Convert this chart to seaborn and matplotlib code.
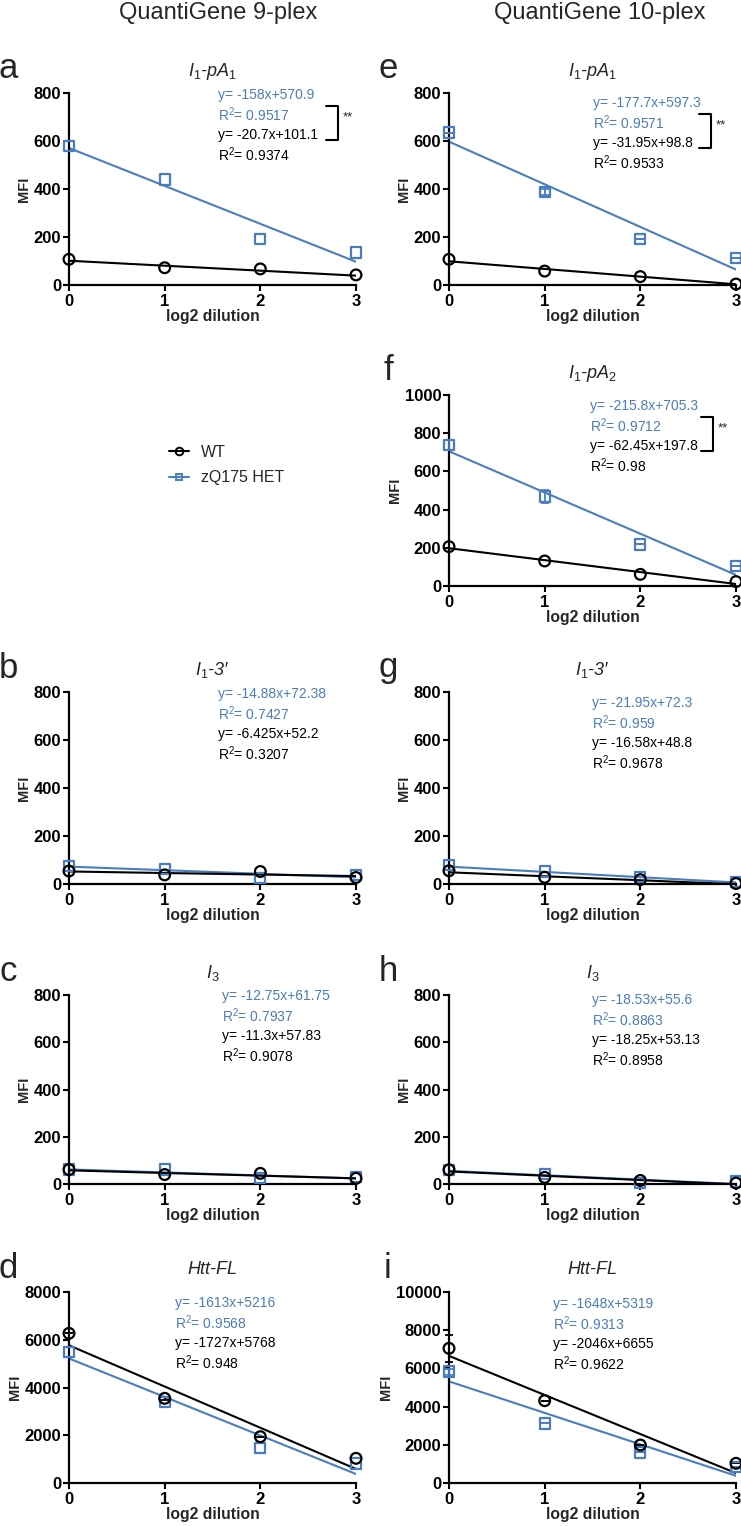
import matplotlib
matplotlib.use("Agg")
import matplotlib.pyplot as plt
import seaborn as sns
import pandas as pd
from matplotlib.lines import Line2D

# ---------------- data ----------------
dilution = [0, 1, 2, 3]
panels = ["a", "b", "c", "d", "e", "f", "g", "h", "i"]
titles = ["$I_1$-$pA_1$", "$I_1$-3\u2032", "$I_3$", "Htt-FL",
          "$I_1$-$pA_1$", "$I_1$-$pA_2$", "$I_1$-3\u2032", "$I_3$", "Htt-FL"]

wt_a = [107, 72, 67, 42];        het_a = [579, 440, 191, 135]
wt_b = [54, 38, 52, 27];         het_b = [76, 63, 25, 38]
wt_c = [61, 40, 45, 24];         het_c = [61, 61, 24, 30]
wt_d = [6269, 3546, 1940, 1033]; het_d = [5500, 3405, 1480, 823]
wt_e = [107, 58, 35, 4];         het_e = [635, 387, 191, 112]
wt_f = [206, 131, 61, 23];       het_f = [738, 468, 218, 105]
wt_g = [55, 28, 18, 2];          het_g = [78, 52, 28, 8]
wt_h = [60, 28, 15, 4];          het_h = [60, 42, 3, 10]
wt_i = [7050, 4310, 1990, 1030]; het_i = [5830, 3120, 1600, 850]

wt_err = {"d": [0, 60, 0, 0], "i": [700, 0, 0, 0]}
het_err = {"e": [0, 12, 0, 0], "f": [25, 35, 0, 0], "i": [150, 0, 0, 0]}

wt_slope = [-20.7, -6.425, -11.3, -1727, -31.95, -62.45, -16.58, -18.25, -2046]
wt_int = [101.1, 52.2, 57.83, 5768, 98.8, 197.8, 48.8, 53.13, 6655]
wt_r2 = [0.9374, 0.3207, 0.9078, 0.948, 0.9533, 0.98, 0.9678, 0.8958, 0.9622]
het_slope = [-158, -14.88, -12.75, -1613, -177.7, -215.8, -21.95, -18.53, -1648]
het_int = [570.9, 72.38, 61.75, 5216, 597.3, 705.3, 72.3, 55.6, 5319]
het_r2 = [0.9517, 0.7427, 0.7937, 0.9568, 0.9571, 0.9712, 0.959, 0.8863, 0.9313]

ymax = [800, 800, 800, 8000, 800, 1000, 800, 800, 10000]
ystep = [200, 200, 200, 2000, 200, 200, 200, 200, 2000]
significant = ["a", "e", "f"]

col_titles = ["QuantiGene 9-plex", "QuantiGene 10-plex"]
groups = ["WT", "zQ175 HET"]

wt_data = [wt_a, wt_b, wt_c, wt_d, wt_e, wt_f, wt_g, wt_h, wt_i]
het_data = [het_a, het_b, het_c, het_d, het_e, het_f, het_g, het_h, het_i]

# ---------------- style ----------------
sns.set_style("ticks")
plt.rcParams["font.family"] = ["Liberation Sans", "DejaVu Sans"]
plt.rcParams["mathtext.fontset"] = "custom"
plt.rcParams["mathtext.rm"] = "Liberation Sans"
plt.rcParams["mathtext.it"] = "Liberation Sans:italic"
plt.rcParams["mathtext.bf"] = "Liberation Sans:bold"

BLUE = "#4A7DBF"
BLACK = "#000000"

W, H = 741, 1526
fig = plt.figure(figsize=(W / 100, H / 100), dpi=100)
fig.patch.set_facecolor("white")


def fx(px):
    return px / W


def fy(py):
    return 1 - py / H


col_left = [69, 449]
ax_w = 287
rows = [(93, 285), (395, 586), (692, 884), (995, 1184), (1292, 1483)]
layout = {"a": (0, 0), "b": (0, 2), "c": (0, 3), "d": (0, 4),
          "e": (1, 0), "f": (1, 1), "g": (1, 2), "h": (1, 3), "i": (1, 4)}
eq_pos = {"a": (218, 95), "b": (218, 694), "c": (222, 996), "d": (175, 1303),
          "e": (593, 103), "f": (590, 406), "g": (592, 703), "h": (592, 1000),
          "i": (553, 1304)}
bracket_x = {"a": 338, "e": 711, "f": 713}

for k, p in enumerate(panels):
    c, r = layout[p]
    top, bot = rows[r]
    ax = fig.add_axes([fx(col_left[c]), fy(bot), fx(ax_w), (bot - top) / H])
    df = pd.DataFrame({"x": dilution * 2,
                       "y": wt_data[k] + het_data[k],
                       "g": [groups[0]] * 4 + [groups[1]] * 4})
    fit = pd.DataFrame({"x": [0, 3, 0, 3],
                        "y": [wt_int[k], wt_int[k] + 3 * wt_slope[k],
                              het_int[k], het_int[k] + 3 * het_slope[k]],
                        "g": [groups[0]] * 2 + [groups[1]] * 2})
    sns.lineplot(data=fit[fit.g == groups[1]], x="x", y="y", color=BLUE,
                 lw=1.5, ax=ax, legend=False)
    sns.lineplot(data=fit[fit.g == groups[0]], x="x", y="y", color=BLACK,
                 lw=1.5, ax=ax, legend=False)
    if p in het_err:
        ax.errorbar(dilution, het_data[k], yerr=het_err[p], fmt="none",
                    ecolor=BLUE, elinewidth=1.3, capsize=3, capthick=1.3,
                    clip_on=False, zorder=3)
    if p in wt_err:
        ax.errorbar(dilution, wt_data[k], yerr=wt_err[p], fmt="none",
                    ecolor=BLACK, elinewidth=1.3, capsize=3, capthick=1.3,
                    clip_on=False, zorder=3)
    sns.scatterplot(data=df[df.g == groups[1]], x="x", y="y", marker="s",
                    s=55, facecolor="none", edgecolor=BLUE, linewidth=1.6,
                    ax=ax, clip_on=False, zorder=4, legend=False)
    sns.scatterplot(data=df[df.g == groups[0]], x="x", y="y", marker="o",
                    s=60, facecolor="none", edgecolor=BLACK, linewidth=1.6,
                    ax=ax, clip_on=False, zorder=5, legend=False)
    for coll in ax.collections:
        try:
            coll.set_facecolor("none")
        except Exception:
            pass

    ax.set_xlim(0, 3)
    ax.set_ylim(0, ymax[k])
    ax.set_xticks(dilution)
    ax.set_yticks(range(0, ymax[k] + 1, ystep[k]))
    sns.despine(ax=ax)
    for s in ["left", "bottom"]:
        ax.spines[s].set_linewidth(1.6)
        ax.spines[s].set_color("black")
    ax.tick_params(axis="both", direction="out", length=4, width=1.5,
                   labelsize=12, colors="black")
    ax.tick_params(axis="x", pad=2.5)
    ax.tick_params(axis="y", pad=1.5)
    for lab in ax.get_xticklabels() + ax.get_yticklabels():
        lab.set_fontweight("bold")
    ax.set_xlabel("log2 dilution", fontsize=11.3, fontweight="bold", labelpad=0)
    ax.set_ylabel("MFI", fontsize=10.5, fontweight="bold", labelpad=2)
    ax.set_facecolor("none")

    fig.text(fx(col_left[c] + ax_w / 2), fy(top - 22), titles[k], fontsize=13,
             style="italic", ha="center", va="center")
    fig.text(fx(col_left[c] - 61), fy(top - 24), p, fontsize=25,
             ha="center", va="center")

    ex, ey = eq_pos[p]
    lines = [(f"y= {het_slope[k]:g}x+{het_int[k]:g}", BLUE),
             (f"R$^2$= {het_r2[k]:g}", BLUE),
             (f"y= {wt_slope[k]:g}x+{wt_int[k]:g}", BLACK),
             (f"R$^2$= {wt_r2[k]:g}", BLACK)]
    for j, (t, col) in enumerate(lines):
        fig.text(fx(ex), fy(ey + 20 * j), t, color=col, fontsize=10,
                 ha="left", va="center")
    if p in significant:
        bx = bracket_x[p]
        y1, y2 = ey + 11, ey + 45
        fig.add_artist(Line2D([fx(bx - 12), fx(bx), fx(bx), fx(bx - 12)],
                              [fy(y1), fy(y1), fy(y2), fy(y2)],
                              color="black", lw=1.5,
                              transform=fig.transFigure))
        fig.text(fx(bx + 5), fy((y1 + y2) / 2 - 6), "**", fontsize=9.5,
                 ha="left", va="center")

fig.text(fx(218), fy(13), col_titles[0], fontsize=17, ha="center", va="center")
fig.text(fx(600), fy(13), col_titles[1], fontsize=17, ha="center", va="center")

handles = [Line2D([], [], color=BLACK, marker="o", mfc="none", mec=BLACK,
                  ms=5.5, mew=1.4, lw=1.5),
           Line2D([], [], color=BLUE, marker="s", mfc="none", mec=BLUE,
                  ms=5, mew=1.4, lw=1.5)]
fig.legend(handles, groups, loc="center left",
           bbox_to_anchor=(fx(155), fy(465)), frameon=False, fontsize=11.5,
           handlelength=1.2, handletextpad=0.8, labelspacing=0.65)

fig.savefig("out.png", dpi=100, facecolor="white")
